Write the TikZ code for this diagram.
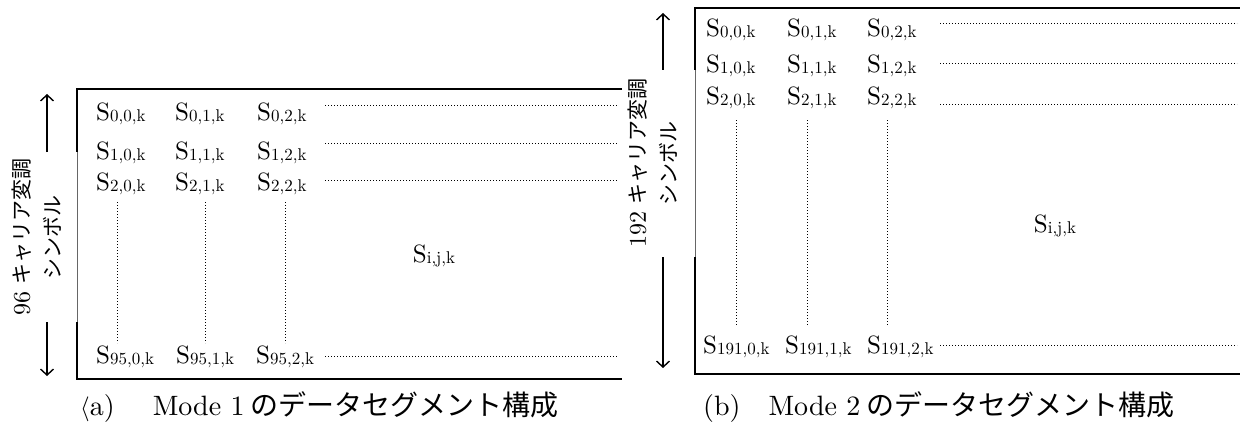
\documentclass[tikz,border=0pt]{standalone}
\usepackage{fontspec}
\setmainfont{lmroman10}[Extension=.otf, UprightFont=*-regular, ItalicFont=*-italic, BoldFont=*-bold]
\newfontfamily\jp{Noto Sans CJK JP}
\usetikzlibrary{arrows.meta}
\newcommand{\Sv}[1]{S\raisebox{-1pt}{\fontsize{17}{17}\selectfont #1}}
\newcommand{\dg}[1]{{\fontsize{24}{24}\selectfont #1}}
\begin{document}
\begin{tikzpicture}[x=1pt,y=-1pt,
  cell/.style={anchor=base west, inner sep=0pt, font=\fontsize{25}{25}\selectfont},
  frame/.style={line width=2pt},
  thinframe/.style={line width=0.8pt, black!60},
  dotline/.style={line width=1pt, dash pattern=on 0.9pt off 2.1pt},
  dimarrow/.style={line width=1.4pt, -{Straight Barb[length=6pt,width=13pt]}},
  vlabel/.style={rotate=90, inner sep=0pt, font=\fontsize{21}{21}\selectfont},
  capt/.style={anchor=base west, inner sep=0pt, font=\fontsize{28}{28}\selectfont}]
\useasboundingbox (0,0) rectangle (1240,428);

% ---------------- (a) Mode 1 ----------------
\coordinate (aTL) at (77,89); \coordinate (aTR) at (622,89);
\coordinate (aBL) at (77,379); \coordinate (aBR) at (622,379);
\coordinate (aL1) at (77,152); \coordinate (aL2) at (77,322);
\draw[frame] (aTR) -- (aTL) -- (aL1);
\draw[thinframe] (aL1) -- (aL2);
\draw[frame] (aL2) -- (aBL) -- (aBR);

\coordinate (aU0) at (47,152); \coordinate (aU1) at (47,94);
\coordinate (aD0) at (47,322); \coordinate (aD1) at (47,376);
\draw[dimarrow] (aU0) -- (aU1);
\draw[dimarrow] (aD0) -- (aD1);
\node[vlabel] (alab1) at (22,237) {\dg{96} {\jp キャリア変調}};
\node[vlabel] (alab2) at (52,237) {\jp シンボル};

\node[cell] (a00) at (96,121) {\Sv{0,0,k}};
\node[cell] (a01) at (175,121) {\Sv{0,1,k}};
\node[cell] (a02) at (257,121) {\Sv{0,2,k}};
\node[cell] (a10) at (96,159) {\Sv{1,0,k}};
\node[cell] (a11) at (175,159) {\Sv{1,1,k}};
\node[cell] (a12) at (257,159) {\Sv{1,2,k}};
\node[cell] (a20) at (96,190) {\Sv{2,0,k}};
\node[cell] (a21) at (175,190) {\Sv{2,1,k}};
\node[cell] (a22) at (257,190) {\Sv{2,2,k}};
\node[cell] (a30) at (96,363) {\Sv{95,0,k}};
\node[cell] (a31) at (176,363) {\Sv{95,1,k}};
\node[cell] (a32) at (256,363) {\Sv{95,2,k}};
\node[cell, anchor=base] (aij) at (434,262) {\Sv{i,j,k}};

\foreach \r/\y in {0/105,1/143,2/180,3/356}{
  \coordinate (ah\r s) at (325,\y); \coordinate (ah\r e) at (618,\y);
  \draw[dotline] (ah\r s) -- (ah\r e);
}
\foreach \c/\x in {0/117,1/205,2/285}{
  \coordinate (av\c s) at (\x,202); \coordinate (av\c e) at (\x,343);
  \draw[dotline] (av\c s) -- (av\c e);
}

\node[capt] (capa) at (80,415) {$\langle$a)\hspace{38pt}Mode 1\hspace{6pt}{\jp\fontsize{28}{28}\selectfont のデータセグメント構成}};

% ---------------- (b) Mode 2 ----------------
\coordinate (bTL) at (695,8); \coordinate (bTR) at (1240,8);
\coordinate (bBL) at (695,374); \coordinate (bBR) at (1240,374);
\coordinate (bL1) at (695,70); \coordinate (bL2) at (695,257);
\draw[frame] (bTR) -- (bTL) -- (bL1);
\draw[thinframe] (bL1) -- (bL2);
\draw[frame] (bL2) -- (bBL) -- (bBR);

\coordinate (bU0) at (663,70); \coordinate (bU1) at (663,13);
\coordinate (bD0) at (663,257); \coordinate (bD1) at (663,368);
\draw[dimarrow] (bU0) -- (bU1);
\draw[dimarrow] (bD0) -- (bD1);
\node[vlabel] (blab1) at (638,163) {\dg{192} {\jp キャリア変調}};
\node[vlabel] (blab2) at (668,163) {\jp シンボル};

\node[cell] (b00) at (706,37) {\Sv{0,0,k}};
\node[cell] (b01) at (787,37) {\Sv{0,1,k}};
\node[cell] (b02) at (867,37) {\Sv{0,2,k}};
\node[cell] (b10) at (706,73) {\Sv{1,0,k}};
\node[cell] (b11) at (787,73) {\Sv{1,1,k}};
\node[cell] (b12) at (867,73) {\Sv{1,2,k}};
\node[cell] (b20) at (706,104) {\Sv{2,0,k}};
\node[cell] (b21) at (787,104) {\Sv{2,1,k}};
\node[cell] (b22) at (867,104) {\Sv{2,2,k}};
\node[cell] (b30) at (703,353) {\Sv{191,0,k}};
\node[cell] (b31) at (785,353) {\Sv{191,1,k}};
\node[cell] (b32) at (867,353) {\Sv{191,2,k}};
\node[cell, anchor=base] (bij) at (1055,232) {\Sv{i,j,k}};

\foreach \r/\y in {0/24,1/64,2/104,3/345}{
  \coordinate (bh\r s) at (940,\y); \coordinate (bh\r e) at (1237,\y);
  \draw[dotline] (bh\r s) -- (bh\r e);
}
\foreach \c/\x in {0/736,1/807,2/887}{
  \coordinate (bv\c s) at (\x,120); \coordinate (bv\c e) at (\x,326);
  \draw[dotline] (bv\c s) -- (bv\c e);
}

\node[capt] (capb) at (703,415) {(b)\hspace{28pt}Mode 2\hspace{6pt}{\jp\fontsize{28}{28}\selectfont のデータセグメント構成}};
\end{tikzpicture}
\end{document}
